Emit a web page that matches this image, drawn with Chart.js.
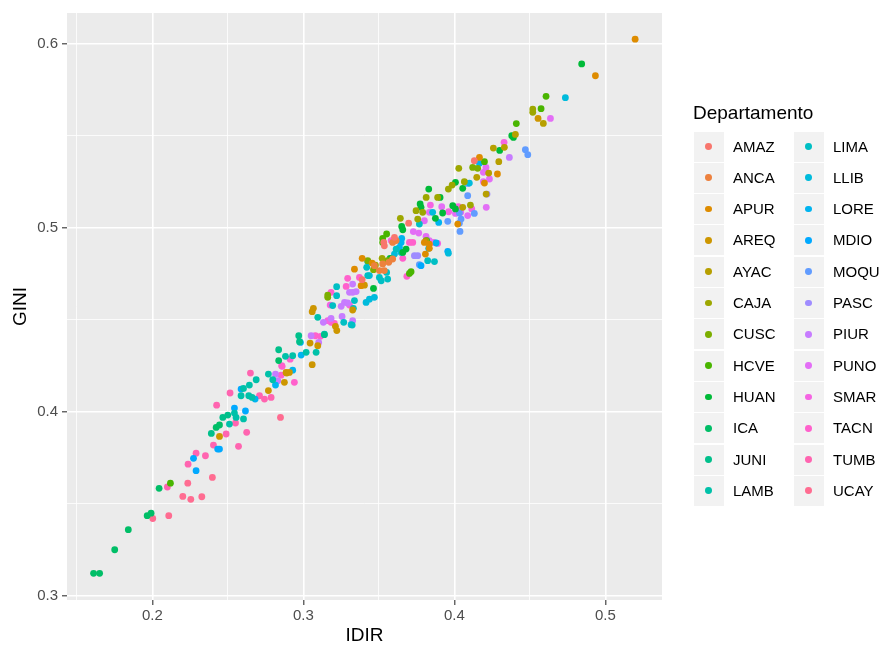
<!DOCTYPE html>
<html>
<head>
<meta charset="utf-8">
<script src="https://cdn.jsdelivr.net/npm/chart.js@4.4.1/dist/chart.umd.min.js"></script>
<style>
  html, body { margin: 0; padding: 0; background: #fff; }
  #wrap { position: relative; width: 884px; height: 649px; font-family: "Liberation Sans", Arial, sans-serif; }
  #legend div { position: absolute; }
  .ttl { font-size: 19px; color: #000; }
  .key { width: 30px; height: 30px; background: #F2F2F2; }
  .dot { width: 6.8px; height: 6.8px; border-radius: 50%; }
  .lab { font-size: 15px; color: #000; line-height: 30px; }
</style>
</head>
<body>
<div id="wrap">
  <canvas id="myChart" width="884" height="649"></canvas>
  <div id="legend"></div>
</div>
<script>
// departamentos (orden del legend)
const departamentos = ['AMAZ','ANCA','APUR','AREQ','AYAC','CAJA','CUSC','HCVE','HUAN','ICA','JUNI','LAMB',
  'LIMA','LLIB','LORE','MDIO','MOQU','PASC','PIUR','PUNO','SMAR','TACN','TUMB','UCAY'];

// [IDIR, GINI]
const amaz = [[0.3697,0.5023],[0.3532,0.4918],[0.3536,0.4900],[0.3603,0.4946],[0.4132,0.5362],[0.3389,0.4716]];
const anca = [[0.3614,0.4928],[0.3591,0.4918],[0.3470,0.4792],[0.3525,0.4801],[0.3503,0.4765],[0.3536,0.4765],[0.3591,0.4828],[0.3565,0.4810]];
const apur = [[0.5197,0.6023],[0.4934,0.5824],[0.4166,0.5380],[0.4285,0.5290],[0.4199,0.5241],[0.3389,0.4832],[0.3338,0.4773],
  [0.3455,0.4806],[0.3382,0.4683],[0.3834,0.4886],[0.4022,0.5018],[0.3834,0.4909],[0.3801,0.4918],[0.3808,0.4855]];
const areq = [[0.4554,0.5592],[0.3058,0.4542],[0.3066,0.4560],[0.3212,0.4462],[0.3221,0.4439],[0.3044,0.4371],[0.3095,0.4357],
  [0.3058,0.4254],[0.2885,0.4212],[0.2907,0.4212],[0.2874,0.4158],[0.2768,0.4113],[0.2889,0.4208],[0.2444,0.3864],[0.3326,0.4551],[0.3404,0.4686]];
const ayac = [[0.4589,0.5565],[0.4404,0.5505],[0.4258,0.5431],[0.4331,0.5435],[0.4294,0.5357],[0.4148,0.5272],[0.4227,0.5295],[0.4055,0.5109],[0.4210,0.5181]];
const caja = [[0.4519,0.5643],[0.4519,0.5625],[0.4029,0.5321],[0.3960,0.5208],[0.3985,0.5230],[0.4066,0.5248],[0.3813,0.5163],[0.3889,0.5163],
  [0.3746,0.5091],[0.3790,0.5082],[0.4106,0.5121],[0.3642,0.5049],[0.3757,0.5045],[0.3812,0.4928],[0.3521,0.4832],[0.3477,0.4795]];
const cusc = [[0.3161,0.4632],[0.3161,0.4620],[0.3426,0.4819],[0.3558,0.4819],[0.3464,0.4770],[0.4121,0.5326],[0.4154,0.5321]];
const hcve = [[0.4607,0.5712],[0.4574,0.5645],[0.4410,0.5564],[0.4199,0.5357],[0.3702,0.4750],[0.3713,0.4759],[0.3551,0.4964],
  [0.3525,0.4940],[0.3525,0.4918],[0.2119,0.3610]];
const huan = [[0.4843,0.5888],[0.4380,0.5498],[0.4391,0.5489],[0.4300,0.5418],[0.3830,0.5208],[0.4007,0.5245],[0.4055,0.5212],
  [0.3773,0.5127],[0.3779,0.5109],[0.3905,0.5163],[0.3922,0.5078],[0.3651,0.5005],[0.3658,0.4987],[0.3680,0.4882],[0.3574,0.4832],
  [0.3989,0.5118],[0.4007,0.5100],[0.3874,0.5049],[0.3816,0.4928],[0.3658,0.4864],[0.3464,0.4668]];
const ica = [[0.1610,0.3120],[0.1650,0.3120],[0.1750,0.3248],[0.1840,0.3357],[0.1965,0.3433],[0.1991,0.3447],[0.2044,0.3582],
  [0.2444,0.3926],[0.2422,0.3913],[0.2836,0.4276]];
const juni = [[0.2466,0.3967],[0.2499,0.3980],[0.2390,0.3880],[0.2836,0.4335],[0.2969,0.4411],[0.2974,0.4379],[0.3139,0.4417]];
const lamb = [[0.2543,0.3991],[0.2554,0.3967],[0.2510,0.3931],[0.2603,0.3959],[0.2687,0.4172],[0.2768,0.4203],[0.2642,0.4143],
  [0.2603,0.4125],[0.2587,0.4085],[0.2638,0.4085],[0.2660,0.4076],[0.2881,0.4299],[0.2929,0.4303],[0.2797,0.4172],[0.3095,0.4511],
  [0.3084,0.4321],[0.3018,0.4321]];
const lima = [[0.3267,0.4484],[0.3323,0.4469],[0.3194,0.4575],[0.3331,0.4560],[0.3426,0.4738],[0.3503,0.4728],[0.3551,0.4755],
  [0.3220,0.4678],[0.3220,0.4629],[0.3338,0.4602],[0.3426,0.4814],[0.3419,0.4783],[0.3558,0.4719],[0.3515,0.4710],[0.3614,0.4882],
  [0.3768,0.5018],[0.3830,0.4886],[0.3823,0.4819],[0.3868,0.4814],[0.3139,0.4420]];
const llib = [[0.4735,0.5705],[0.3415,0.4592],[0.3437,0.4610],[0.3470,0.4620],[0.3316,0.4471],[0.3437,0.4738],[0.3603,0.4855],
  [0.3856,0.5082],[0.3960,0.4860],[0.4099,0.5241],[0.3647,0.4864]];
const lore = [[0.4166,0.5348],[0.3651,0.4940],[0.3647,0.4918],[0.3636,0.4891],[0.3896,0.5027],[0.3879,0.4915],[0.2980,0.4375],
  [0.2985,0.4306],[0.2929,0.4224],[0.2815,0.4143],[0.2680,0.4067]];
const mdio = [[0.2289,0.3678],[0.2272,0.3745],[0.2432,0.3795],[0.2444,0.3795],[0.2543,0.4018],[0.2616,0.4002],[0.2587,0.4121],
  [0.3956,0.4870],[0.3779,0.4792]];
const moqu = [[0.4470,0.5422],[0.4486,0.5395],[0.4088,0.5239],[0.4088,0.5172],[0.4132,0.5076],[0.4033,0.5078],[0.4044,0.5045],
  [0.4033,0.5023],[0.4037,0.4978],[0.3956,0.5033],[0.3768,0.4797]];
const pasc = [[0.4216,0.5181],[0.3735,0.4846],[0.3757,0.4846]];
const piur = [[0.4364,0.5380],[0.2815,0.4203],[0.2830,0.4167],[0.3132,0.4484],[0.3183,0.4505],[0.3101,0.4375],[0.3051,0.4411],
  [0.3326,0.4692],[0.3305,0.4647],[0.3326,0.4647],[0.3349,0.4651],[0.3272,0.4592],[0.3293,0.4589],[0.3250,0.4571],[0.3256,0.4516],[0.3326,0.4493]];
const puno = [[0.4636,0.5592],[0.4209,0.5326],[0.4192,0.5299],[0.4232,0.5263],[0.4192,0.5248],[0.3916,0.5112],[0.3834,0.5082],
  [0.4211,0.5109],[0.4088,0.5064],[0.3801,0.5036],[0.3812,0.4951],[0.3834,0.4928],[0.3728,0.4977],[0.3764,0.4969],[0.4007,0.5076],[0.4042,0.5082]];
const smar = [[0.4329,0.5462],[0.3841,0.5121],[0.4026,0.5112],[0.4115,0.5100],[0.3962,0.5085],[0.3889,0.4913],[0.3863,0.4918],
  [0.3581,0.4928],[0.3161,0.4493],[0.3177,0.4578],[0.3305,0.4578]];
const tacn = [[0.3724,0.4918],[0.3702,0.4918],[0.3658,0.4832],[0.3685,0.4734],[0.3293,0.4723],[0.3371,0.4728],[0.3283,0.4679],
  [0.3183,0.4647],[0.3183,0.4484],[0.3205,0.4478],[0.3079,0.4411],[0.3113,0.4408],[0.2912,0.4284],[0.2856,0.4248],[0.2940,0.4158],
  [0.2852,0.4197],[0.2859,0.4245]];
const tumb = [[0.2649,0.4208],[0.2709,0.4085],[0.2742,0.4067],[0.2786,0.4076],[0.2514,0.4100],[0.2425,0.4034],[0.2550,0.3937],
  [0.2488,0.3877],[0.2624,0.3886],[0.2570,0.3810],[0.2404,0.3817],[0.2351,0.3759],[0.2289,0.3773],[0.2236,0.3713],[0.2099,0.3589]];
const ucay = [[0.2002,0.3418],[0.2108,0.3433],[0.2201,0.3538],[0.2254,0.3522],[0.2327,0.3536],[0.2234,0.3610],[0.2397,0.3641],[0.2848,0.3967]];

const series = [amaz, anca, apur, areq, ayac, caja, cusc, hcve, huan, ica, juni, lamb,
  lima, llib, lore, mdio, moqu, pasc, piur, puno, smar, tacn, tumb, ucay];

const xTicks = [0.15, 0.2, 0.25, 0.3, 0.35, 0.4, 0.45, 0.5];
const yTicks = [0.3, 0.35, 0.4, 0.45, 0.5, 0.55, 0.6];

// paleta hue de ggplot (hcl, c=100, l=65)
function hcl(h, c, l) {
  const hr = h * Math.PI / 180;
  const U = c * Math.cos(hr), V = c * Math.sin(hr);
  const Xn = 95.047, Yn = 100, Zn = 108.883;
  const den = Xn + 15 * Yn + 3 * Zn;
  const un = 4 * Xn / den, vn = 9 * Yn / den;
  const Y = Yn * Math.pow((l + 16) / 116, 3);
  const u = U / (13 * l) + un, v = V / (13 * l) + vn;
  const X = 9 * Y * u / (4 * v);
  const Z = (9 * Y / v - X - 15 * Y) / 3;
  const x = X / 100, y = Y / 100, z = Z / 100;
  const lin = [
    3.240479 * x - 1.537150 * y - 0.498535 * z,
    -0.969256 * x + 1.875992 * y + 0.041556 * z,
    0.055648 * x - 0.204043 * y + 1.057311 * z
  ];
  return '#' + lin.map(t => {
    t = t <= 0.0031308 ? 12.92 * t : 1.055 * Math.pow(t, 1 / 2.4) - 0.055;
    t = Math.max(0, Math.min(1, t));
    return Math.round(t * 255).toString(16).padStart(2, '0');
  }).join('');
}
const colores = departamentos.map((d, i) => hcl(15 + 15 * i, 100, 65));

const isMajor = v => Math.round(v * 100) % 10 === 0;

const panelBg = {
  id: 'panelBg',
  beforeDraw(chart) {
    const {ctx, chartArea: a} = chart;
    ctx.save();
    ctx.fillStyle = '#EBEBEB';
    ctx.fillRect(a.left, a.top, a.right - a.left, a.bottom - a.top);
    ctx.restore();
  }
};

const gridOpts = {
  color: '#FFFFFF',
  lineWidth: c => (c.tick && isMajor(c.tick.value)) ? 1.6 : 0.8,
  drawTicks: true,
  tickLength: 5,
  tickWidth: 1.1,
  tickColor: c => (c.tick && isMajor(c.tick.value)) ? '#333333' : 'rgba(0,0,0,0)'
};
const tickFont = { family: '"Liberation Sans", Arial, sans-serif', size: 15 };
const titleFont = { family: '"Liberation Sans", Arial, sans-serif', size: 19 };

const ctx = document.getElementById('myChart').getContext('2d');
const myChart = new Chart(ctx, {
  type: 'scatter',
  data: {
    datasets: series.map((pts, i) => ({
      label: departamentos[i],
      data: pts.map(p => ({x: p[0], y: p[1]})),
      backgroundColor: colores[i],
      borderWidth: 0,
      pointRadius: 3.4,
      pointHoverRadius: 3.4
    }))
  },
  options: {
    responsive: false,
    devicePixelRatio: 1,
    animation: false,
    layout: { padding: { left: 9, right: 222, top: 12, bottom: 2 } },
    plugins: { legend: { display: false }, tooltip: { enabled: false } },
    scales: {
      x: {
        type: 'linear',
        min: 0.1434, max: 0.5375,
        afterBuildTicks: axis => { axis.ticks = xTicks.map(v => ({value: v})); },
        afterFit: scale => { scale.height = 47; },
        grid: gridOpts,
        border: { display: false },
        ticks: {
          autoSkip: false, maxRotation: 0, padding: 2, color: '#4D4D4D', font: tickFont,
          callback: v => isMajor(v) ? v.toFixed(1) : ''
        },
        title: { display: true, text: 'IDIR', color: '#000', font: titleFont, padding: 0 }
      },
      y: {
        type: 'linear',
        min: 0.2975, max: 0.6165,
        afterBuildTicks: axis => { axis.ticks = yTicks.map(v => ({value: v})); },
        afterFit: scale => { scale.width = 58; },
        grid: gridOpts,
        border: { display: false },
        ticks: {
          autoSkip: false, padding: 4, color: '#4D4D4D', font: tickFont,
          callback: v => isMajor(v) ? v.toFixed(1) : ''
        },
        title: { display: true, text: 'GINI', color: '#000', font: titleFont, padding: 0 }
      }
    }
  },
  plugins: [panelBg]
});

// legend estilo ggplot
const legend = document.getElementById('legend');
const t = document.createElement('div');
t.className = 'ttl';
t.textContent = 'Departamento';
t.style.left = '693px';
t.style.top = '102px';
legend.appendChild(t);
departamentos.forEach((d, i) => {
  const col = Math.floor(i / 12), row = i % 12;
  const left = 693.5 + col * 100, top = 131.5 + row * 31.3;
  const k = document.createElement('div');
  k.className = 'key';
  k.style.left = left + 'px';
  k.style.top = top + 'px';
  legend.appendChild(k);
  const p = document.createElement('div');
  p.className = 'dot';
  p.style.background = colores[i];
  p.style.left = (left + 15 - 3.4) + 'px';
  p.style.top = (top + 15 - 3.4) + 'px';
  legend.appendChild(p);
  const l = document.createElement('div');
  l.className = 'lab';
  l.textContent = d;
  l.style.left = (left + 39.5) + 'px';
  l.style.top = top + 'px';
  legend.appendChild(l);
});
</script>
</body>
</html>
